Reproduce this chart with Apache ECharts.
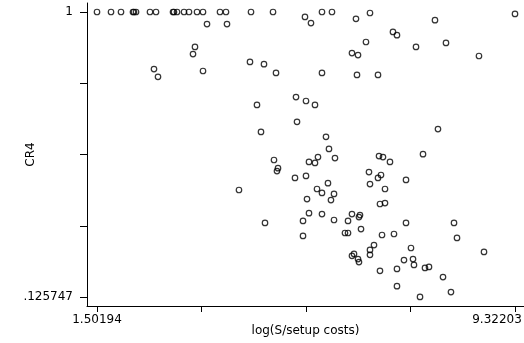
<!DOCTYPE html>
<html>
<head>
<meta charset="utf-8">
<script src="https://cdn.jsdelivr.net/npm/echarts@6/dist/echarts.min.js"></script>
<style>html,body{margin:0;padding:0;background:#fff}#c{width:524px;height:343px}</style>
</head>
<body>
<div id="c"></div>
<script>
var xTickValues = [1.50194, 3.45697, 5.41199, 7.36701, 9.32203];
var xTickLabels = ["1.50194", "9.32203"];
var yTickValues = [0.125747, 0.34431, 0.562873, 0.781437, 1];
var yTickLabels = [".125747", "1"];
var xName = "log(S/setup costs)";
var yName = "CR4";

var xValues = [
1.502,1.764,1.951,2.175,2.194,2.232,2.493,2.606,2.924,2.942,2.999,3.130,3.223,3.373,3.485,3.803,3.915,4.383,4.795,5.711,5.898,6.609,9.322,
5.393,5.505,6.347,7.825,3.560,3.934,
7.039,7.114,6.534,8.031,7.470,6.272,6.385,8.648,
3.335,3.298,4.364,4.626,2.568,3.485,2.643,
4.851,5.711,6.366,6.759,
5.225,5.412,5.580,4.495,5.244,7.881,4.570,5.786,5.842,
7.601,6.778,6.852,6.983,5.636,5.954,5.468,5.580,4.813,4.888,4.869,6.590,6.815,6.759,5.206,5.412,7.283,5.823,6.609,6.890,4.158,5.618,5.711,5.936,5.431,5.879,6.796,6.890,
5.468,5.711,6.272,6.422,6.403,5.356,5.936,6.198,4.645,7.283,8.181,6.441,6.141,6.198,6.834,7.058,5.356,8.237,6.684,7.376,6.609,8.742,6.609,6.310,6.272,6.385,6.403,7.245,7.414,7.432,6.796,7.114,7.638,7.713,7.975,7.114,8.124,7.545
];
var yValues = [
1,1,1,1,1,1,1,1,1,1,1,1,1,1,1,1,1,1,1,1,1,0.997,0.994,
0.985,0.966,0.979,0.975,0.963,0.963,
0.939,0.929,0.908,0.905,0.893,0.874,0.868,0.865,
0.893,0.871,0.847,0.840,0.825,0.819,0.801,
0.813,0.813,0.807,0.807,
0.739,0.727,0.715,0.715,0.663,0.641,0.632,0.617,0.580,
0.564,0.558,0.555,0.540,0.555,0.552,0.540,0.537,0.546,0.521,0.512,0.509,0.500,0.491,0.491,0.497,0.485,0.475,0.472,0.457,0.454,0.457,0.445,0.442,0.426,0.423,0.411,0.414,
0.383,0.380,0.380,0.377,0.371,0.359,0.362,0.359,0.353,0.353,0.353,0.334,0.322,0.322,0.316,0.319,0.313,0.307,0.285,0.276,0.270,0.264,0.255,0.258,0.252,0.242,0.233,0.239,0.242,0.224,0.206,0.212,0.215,0.218,0.187,0.159,0.141,0.126
];

var pts = xValues.map(function (x, i) { return [x, yValues[i]]; });
var pxX = (xTickValues[4] - xTickValues[0]) / 418;
var pxY = (yTickValues[4] - yTickValues[0]) / 285;

var chart = echarts.init(document.getElementById('c'), null, {renderer: 'canvas'});
var font = 'DejaVu Sans';
chart.setOption({
  animation: false,
  backgroundColor: '#fff',
  grid: {left: 87, right: 0, top: 3, bottom: 37, containLabel: false, outerBoundsMode: 'none'},
  xAxis: {
    type: 'value',
    min: xTickValues[0] - 10 * pxX,
    max: xTickValues[0] + 427 * pxX,
    name: xName,
    nameLocation: 'middle',
    nameGap: 19,
    nameMoveOverlap: false,
    nameTextStyle: {fontFamily: font, fontSize: 12, color: '#000'},
    axisLine: {show: true, onZero: false, lineStyle: {color: '#000', width: 1}},
    axisTick: {show: true, inside: false, length: 6, customValues: xTickValues, lineStyle: {color: '#000'}},
    axisLabel: {show: true, margin: 8, customValues: [xTickValues[0], xTickValues[4]],
      hideOverlap: false,
      formatter: function (v) { return Math.abs(v - xTickValues[0]) < 1e-6 ? xTickLabels[0] : '{r|' + xTickLabels[1] + '}'; },
      rich: {r: {fontFamily: font, fontSize: 12, color: '#000', padding: [0, 36, 0, 0]}},
      fontFamily: font, fontSize: 12, color: '#000'},
    splitLine: {show: false}
  },
  yAxis: {
    type: 'value',
    min: yTickValues[0] - 9 * pxY,
    max: yTickValues[4] + 9 * pxY,
    name: yName,
    nameLocation: 'middle',
    nameGap: 50,
    nameMoveOverlap: false,
    nameRotate: 90,
    nameTextStyle: {fontFamily: font, fontSize: 12, color: '#000'},
    axisLine: {show: true, onZero: false, lineStyle: {color: '#000', width: 1}},
    axisTick: {show: true, inside: false, length: 7, customValues: yTickValues, lineStyle: {color: '#000'}},
    axisLabel: {show: true, margin: 14, customValues: [yTickValues[0], yTickValues[4]],
      formatter: function (v) { return Math.abs(v - yTickValues[0]) < 1e-6 ? yTickLabels[0] : yTickLabels[1]; },
      fontFamily: font, fontSize: 12, color: '#000'},
    splitLine: {show: false}
  },
  series: [{
    type: 'scatter',
    data: pts,
    symbol: 'circle',
    symbolSize: 5.5,
    itemStyle: {color: 'rgba(0,0,0,0)', borderColor: '#000', borderWidth: 1.2},
    clip: false
  }]
});
</script>
</body>
</html>
